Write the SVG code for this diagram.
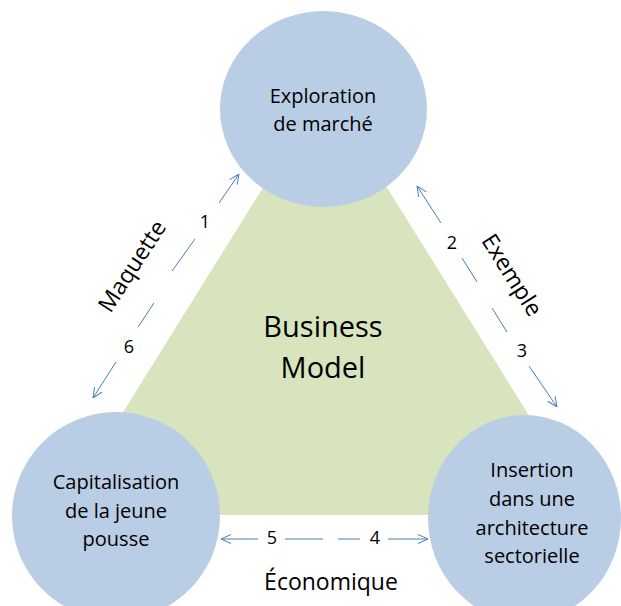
<svg xmlns="http://www.w3.org/2000/svg" width="621" height="606" viewBox="0 0 621 606">
<defs>
<style>
.node{fill:#b9cde5;}
.tri{fill:#d7e4bd;}
.t{font-family:"Open Sans","Liberation Sans",sans-serif;fill:#000;text-anchor:middle;}
.c{font-size:20px;}
.n{font-size:18px;}
.l{font-size:23px;}
.bm{font-size:29px;}
.arr{fill:none;stroke:#4a7ebb;stroke-width:1;}
</style>
<marker id="ah" viewBox="0 0 10 10" refX="10" refY="5" markerWidth="10" markerHeight="10" markerUnits="userSpaceOnUse" orient="auto">
<path d="M0,0.5 L10,5 L0,9.5" fill="none" stroke="#4a7ebb" stroke-width="1"/>
</marker>
</defs>
<rect width="621" height="606" fill="#fff"/>
<g id="business-model">
<polygon class="tri" points="325,88 59,515 591,515"/>
<text class="t bm" x="323" y="337">Business</text>
<text class="t bm" x="323" y="378">Model</text>
</g>
<g id="exploration">
<ellipse class="node" cx="323.5" cy="109" rx="103.5" ry="98"/>
<text class="t c" x="323" y="103">Exploration</text>
<text class="t c" x="323" y="131">de marché</text>
</g>
<g id="capitalisation">
<ellipse class="node" cx="116" cy="516" rx="104" ry="104"/>
<text class="t c" x="116" y="489">Capitalisation</text>
<text class="t c" x="116" y="518">de la jeune</text>
<text class="t c" x="116" y="546">pousse</text>
</g>
<g id="insertion">
<ellipse class="node" cx="524.5" cy="518" rx="96.5" ry="103"/>
<text class="t c" x="532" y="477">Insertion</text>
<text class="t c" x="532" y="506">dans une</text>
<text class="t c" x="532" y="535">architecture</text>
<text class="t c" x="532" y="563">sectorielle</text>
</g>
<g id="connectors">
<path class="arr" d="M172,271 L195,239 M219,203 L239,174" marker-end="url(#ah)"/>
<path class="arr" d="M154,303 L138,327 M116,362 L93,398" marker-end="url(#ah)"/>
<path class="arr" d="M477,282 L462,258 M441,223 L417,186" marker-end="url(#ah)"/>
<path class="arr" d="M492,308 L507,332 M529,366 L557,407" marker-end="url(#ah)"/>
<path class="arr" d="M323,539 L285,539 M258,539 L221,539" marker-end="url(#ah)"/>
<path class="arr" d="M338,539 L360,539 M388,539 L428,539" marker-end="url(#ah)"/>
<text class="t n" x="205" y="228">1</text>
<text class="t n" x="129" y="353">6</text>
<text class="t n" x="452" y="249">2</text>
<text class="t n" x="522" y="357">3</text>
<text class="t n" x="272" y="544">5</text>
<text class="t n" x="375" y="544">4</text>
<text class="t l" transform="translate(132,266) rotate(-57)" y="8">Maquette</text>
<text class="t l" transform="translate(512,275) rotate(57.6)" y="8">Exemple</text>
<text class="t l" x="331" y="590">Économique</text>
</g>
</svg>
